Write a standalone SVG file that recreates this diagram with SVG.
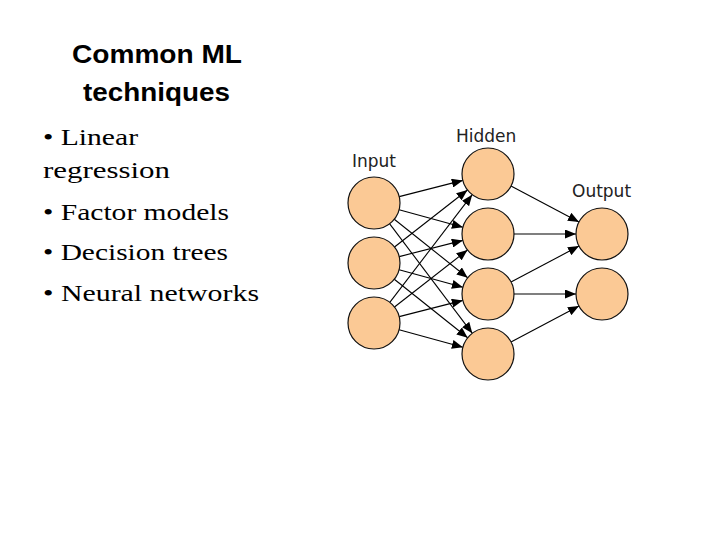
<svg xmlns="http://www.w3.org/2000/svg" width="728" height="546" viewBox="0 0 728 546">
<style>
.title{font-family:"Liberation Sans","DejaVu Sans",sans-serif;font-weight:bold;font-size:25px;fill:#000}
.bul{font-family:"Liberation Serif","DejaVu Serif",serif;font-size:24px;fill:#000}
.lbl{font-family:"DejaVu Sans","Liberation Sans",sans-serif;font-size:17px;fill:#222}
.node{fill:#FBC995;stroke:#111;stroke-width:1.2}
.edge{stroke:#000;stroke-width:1.1;fill:none;marker-end:url(#arr)}
</style>
<defs>
<marker id="arr" markerUnits="userSpaceOnUse" markerWidth="12" markerHeight="9" refX="11" refY="4.5" orient="auto">
<path d="M0,0 L11,4.5 L0,9 z" fill="#000"/>
</marker>
</defs>
<rect width="728" height="546" fill="#fff"/>
<g id="text">
<text class="title" x="72" y="63" textLength="170" lengthAdjust="spacingAndGlyphs">Common ML</text>
<text class="title" x="83" y="101" textLength="147" lengthAdjust="spacingAndGlyphs">techniques</text>
<text class="bul" x="43" y="145" textLength="95" lengthAdjust="spacingAndGlyphs">• Linear</text>
<text class="bul" x="43" y="178" textLength="127" lengthAdjust="spacingAndGlyphs">regression</text>
<text class="bul" x="43" y="220" textLength="186" lengthAdjust="spacingAndGlyphs">• Factor models</text>
<text class="bul" x="43" y="260" textLength="185" lengthAdjust="spacingAndGlyphs">• Decision trees</text>
<text class="bul" x="43" y="301" textLength="216" lengthAdjust="spacingAndGlyphs">• Neural networks</text>
</g>
<g id="labels">
<text class="lbl" x="352" y="167">Input</text>
<text class="lbl" x="456" y="142">Hidden</text>
<text class="lbl" x="572" y="197">Output</text>
</g>
<g id="connectors">
<line class="edge" x1="399.2" y1="196.6" x2="462.8" y2="180.4"/>
<line class="edge" x1="399.1" y1="209.8" x2="462.9" y2="227.2"/>
<line class="edge" x1="394.3" y1="219.2" x2="467.7" y2="277.8"/>
<line class="edge" x1="389.7" y1="223.8" x2="472.3" y2="333.3"/>
<line class="edge" x1="394.5" y1="247.0" x2="467.5" y2="190.0"/>
<line class="edge" x1="399.2" y1="256.6" x2="462.8" y2="240.4"/>
<line class="edge" x1="399.1" y1="269.8" x2="462.9" y2="287.2"/>
<line class="edge" x1="394.3" y1="279.2" x2="467.7" y2="337.8"/>
<line class="edge" x1="389.8" y1="302.4" x2="472.2" y2="194.7"/>
<line class="edge" x1="394.5" y1="307.0" x2="467.5" y2="250.0"/>
<line class="edge" x1="399.2" y1="316.6" x2="462.8" y2="300.4"/>
<line class="edge" x1="399.1" y1="329.8" x2="462.9" y2="347.2"/>
<line class="edge" x1="511.0" y1="186.1" x2="579.0" y2="221.9"/>
<line class="edge" x1="514" y1="234" x2="576" y2="234"/>
<line class="edge" x1="511.0" y1="281.9" x2="579.0" y2="246.1"/>
<line class="edge" x1="514" y1="294" x2="576" y2="294"/>
<line class="edge" x1="511.0" y1="341.9" x2="579.0" y2="306.1"/>
</g>
<g id="in1"><circle class="node" cx="374" cy="203" r="26"/></g>
<g id="in2"><circle class="node" cx="374" cy="263" r="26"/></g>
<g id="in3"><circle class="node" cx="374" cy="323" r="26"/></g>
<g id="h1"><circle class="node" cx="488" cy="174" r="26"/></g>
<g id="h2"><circle class="node" cx="488" cy="234" r="26"/></g>
<g id="h3"><circle class="node" cx="488" cy="294" r="26"/></g>
<g id="h4"><circle class="node" cx="488" cy="354" r="26"/></g>
<g id="o1"><circle class="node" cx="602" cy="234" r="26"/></g>
<g id="o2"><circle class="node" cx="602" cy="294" r="26"/></g>
</svg>
